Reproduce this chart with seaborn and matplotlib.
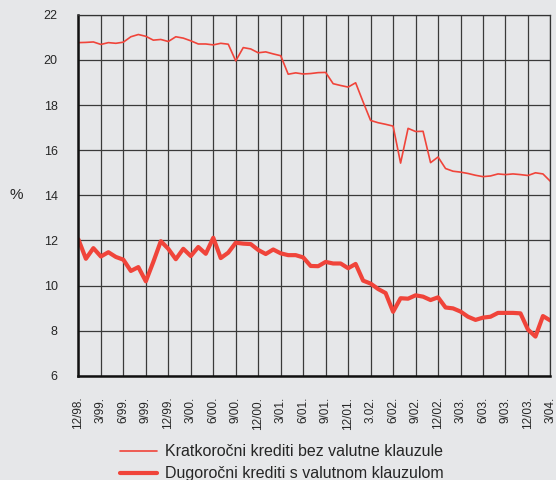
import matplotlib
matplotlib.use('Agg')
import matplotlib.pyplot as plt
import seaborn as sns
import pandas as pd
import numpy as np

# mjesecni podaci, 12/98. - 3/04.
kratkorocni = [20.77, 20.78, 20.80, 20.69, 20.77, 20.74, 20.79, 21.03, 21.13, 21.05,
               20.88, 20.91, 20.82, 21.03, 20.97, 20.85, 20.71, 20.71, 20.67, 20.74,
               20.70, 19.96, 20.55, 20.49, 20.32, 20.36, 20.27, 20.19, 19.37, 19.43,
               19.38, 19.40, 19.44, 19.45, 18.95, 18.87, 18.80, 18.99, 18.14, 17.32,
               17.22, 17.15, 17.07, 15.43, 16.97, 16.83, 16.84, 15.45, 15.70, 15.19,
               15.07, 15.03, 14.97, 14.89, 14.83, 14.86, 14.95, 14.92, 14.95, 14.92,
               14.88, 15.00, 14.95, 14.62]
dugorocni = [12.05, 11.19, 11.66, 11.29, 11.48, 11.27, 11.15, 10.65, 10.82, 10.19,
             11.05, 11.97, 11.63, 11.17, 11.63, 11.31, 11.71, 11.41, 12.12, 11.22,
             11.46, 11.90, 11.86, 11.84, 11.58, 11.40, 11.60, 11.43, 11.35, 11.35,
             11.25, 10.87, 10.86, 11.05, 10.98, 10.98, 10.77, 10.96, 10.22, 10.09,
             9.85, 9.67, 8.84, 9.44, 9.42, 9.57, 9.51, 9.36, 9.48, 9.03,
             8.99, 8.85, 8.62, 8.48, 8.58, 8.62, 8.79, 8.79, 8.79, 8.77,
             8.05, 7.74, 8.65, 8.45]
oznake = ['12/98.', '3/99.', '6/99.', '9/99.', '12/99.', '3/00.', '6/00.', '9/00.',
          '12/00.', '3/01.', '6/01.', '9/01.', '12/01.', '3.02.', '6/02.', '9/02.',
          '12/02.', '3/03.', '6/03.', '9/03.', '12/03.', '3/04.']
nazivi = ['Kratkoročni krediti bez valutne klauzule',
          'Dugoročni krediti s valutnom klauzulom']

bg = '#e6e7e9'
red = '#f0443a'

sns.set_style('white')
plt.rcParams['font.family'] = ['Liberation Sans', 'DejaVu Sans']

df = pd.DataFrame({'mjesec': np.arange(len(kratkorocni)),
                   'k': kratkorocni, 'd': dugorocni})

fig = plt.figure(figsize=(5.56, 4.8), dpi=100, facecolor=bg)
ax = fig.add_axes([0.141, 0.217, 0.849, 0.752], facecolor=bg)

sns.lineplot(data=df, x='mjesec', y='k', ax=ax, color=red, linewidth=1.2, label=nazivi[0])
sns.lineplot(data=df, x='mjesec', y='d', ax=ax, color=red, linewidth=3.0, label=nazivi[1])

ax.set_xlim(0, 63)
ax.set_ylim(6, 22)
ax.set_xticks(np.arange(0, 64, 3))
ax.set_xticklabels(oznake, rotation=90, fontsize=8.5)
ax.set_yticks(np.arange(6, 23, 2))
ax.set_yticklabels([str(i) for i in range(6, 23, 2)], fontsize=9)
ax.tick_params(axis='both', direction='out', length=6, width=1, color='#222222')
ax.tick_params(axis='x', pad=9)
ax.tick_params(axis='y', pad=9)
ax.grid(True, color='#3a3a3a', linewidth=0.9)
ax.set_axisbelow(True)
for s in ['top', 'right']:
    ax.spines[s].set_color('#333333')
    ax.spines[s].set_linewidth(0.9)
for s in ['left', 'bottom']:
    ax.spines[s].set_color('#111111')
    ax.spines[s].set_linewidth(1.8)

ax.set_xlabel('')
ax.set_ylabel('%', rotation=0, fontsize=11, labelpad=20, va='center')

h, l = ax.get_legend_handles_labels()
ax.get_legend().remove()
fig.legend(h, l, loc='upper left', bbox_to_anchor=(0.216, 0.074), frameon=False,
           fontsize=11.5, handlelength=2.3, handletextpad=0.5, labelspacing=0.42,
           borderaxespad=0, borderpad=0)

plt.savefig('out.png', dpi=100, facecolor=bg)
